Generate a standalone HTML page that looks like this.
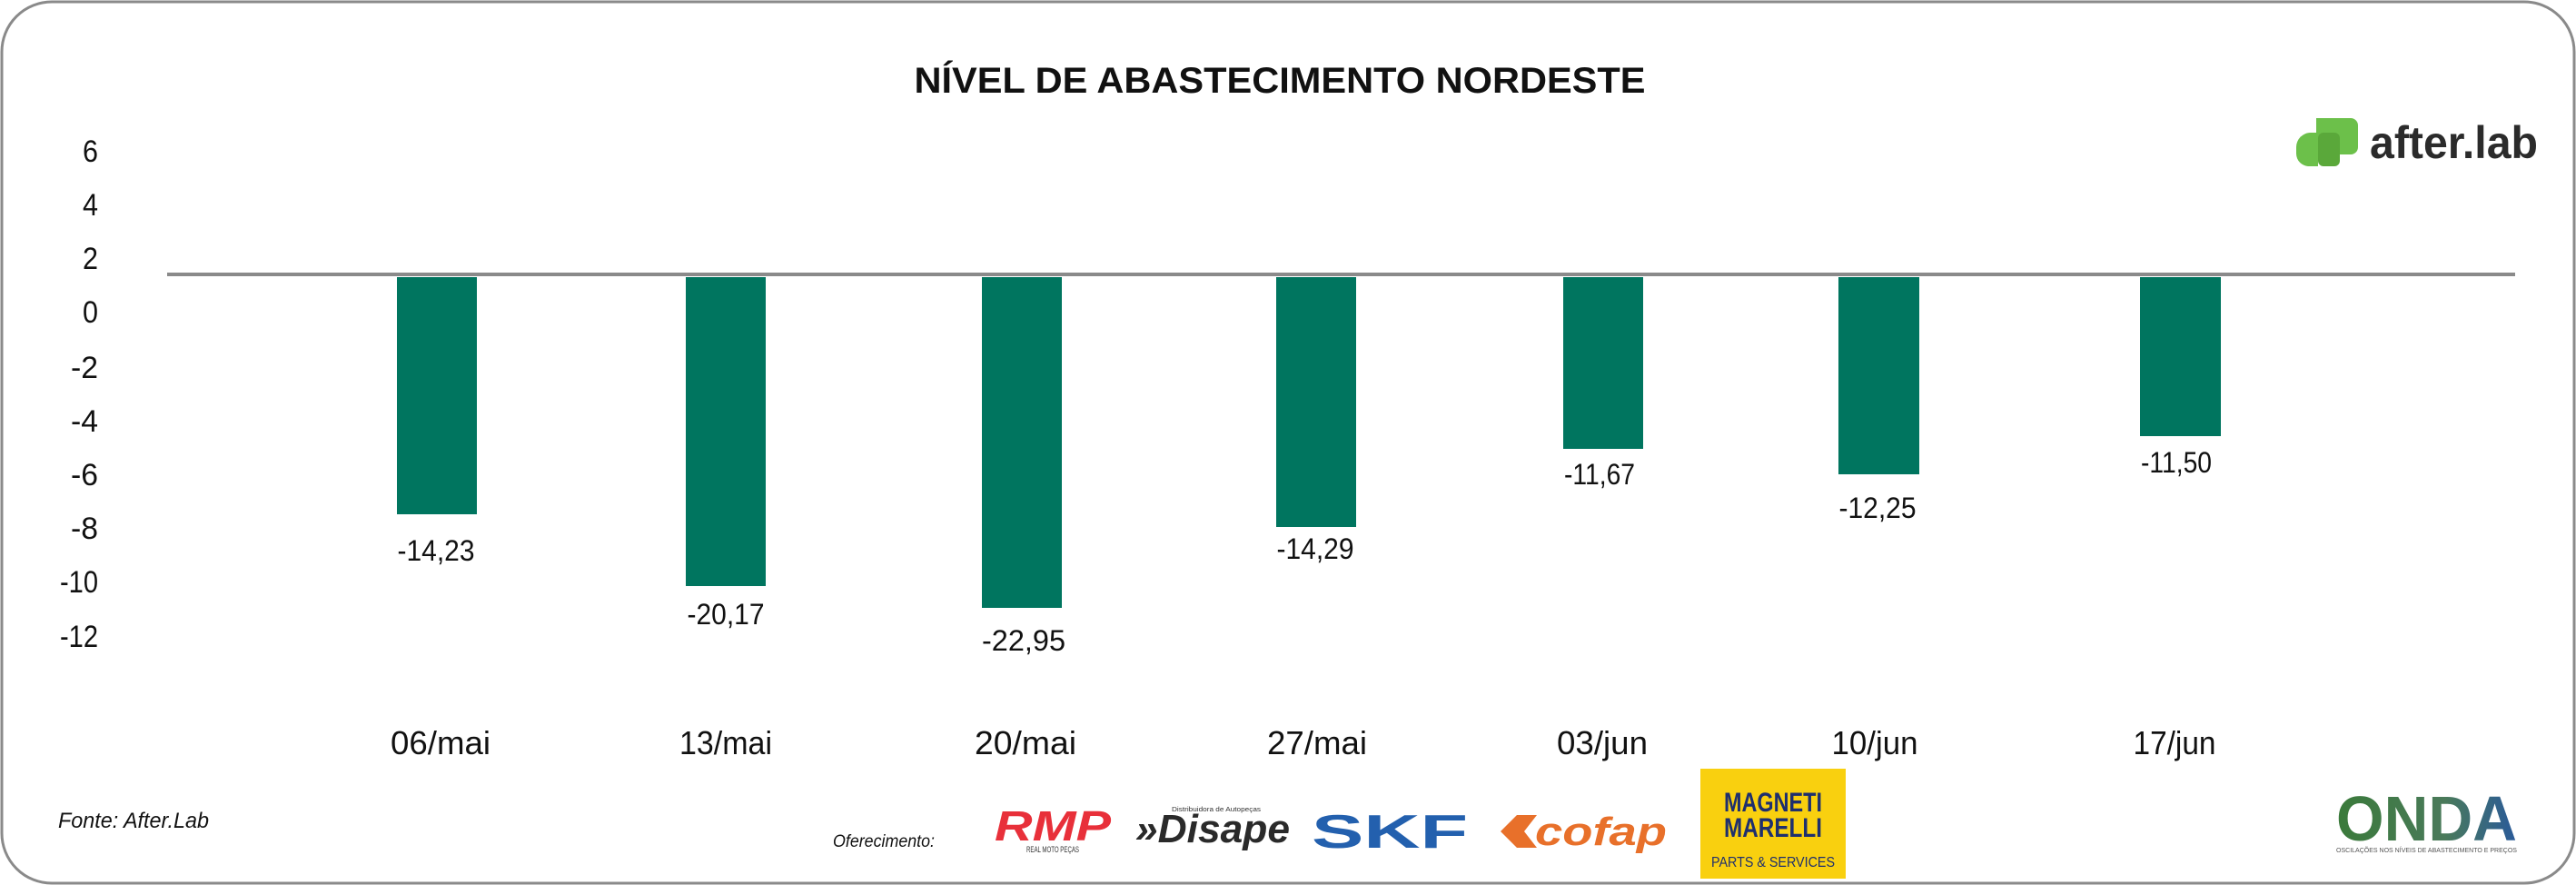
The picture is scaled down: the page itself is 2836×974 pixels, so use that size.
<!DOCTYPE html>
<html><head><meta charset="utf-8"><style>
html,body{margin:0;padding:0;background:#fff;}
svg{display:block;}
text{font-family:"Liberation Sans",sans-serif;}
</style></head><body>
<svg width="2836" height="974" viewBox="0 0 2836 974" xmlns="http://www.w3.org/2000/svg">
<rect x="2" y="2" width="2832" height="970" rx="55" ry="55" fill="#fff" stroke="#8a8a8a" stroke-width="3"/>
<text x="1409" y="102" font-size="40" font-weight="bold" text-anchor="middle" textLength="805" lengthAdjust="spacingAndGlyphs" fill="#111">NÍVEL DE ABASTECIMENTO NORDESTE</text>
<!-- y ticks -->
<g font-size="34" fill="#111" text-anchor="end">
<text x="108" y="178" textLength="17" lengthAdjust="spacingAndGlyphs">6</text>
<text x="108" y="237" textLength="17" lengthAdjust="spacingAndGlyphs">4</text>
<text x="108" y="296" textLength="17" lengthAdjust="spacingAndGlyphs">2</text>
<text x="108" y="355" textLength="17" lengthAdjust="spacingAndGlyphs">0</text>
<text x="108" y="416" textLength="30" lengthAdjust="spacingAndGlyphs">-2</text>
<text x="108" y="475" textLength="30" lengthAdjust="spacingAndGlyphs">-4</text>
<text x="108" y="534" textLength="30" lengthAdjust="spacingAndGlyphs">-6</text>
<text x="108" y="593" textLength="30" lengthAdjust="spacingAndGlyphs">-8</text>
<text x="108" y="652" textLength="42" lengthAdjust="spacingAndGlyphs">-10</text>
<text x="108" y="712" textLength="42" lengthAdjust="spacingAndGlyphs">-12</text>
</g>
<!-- bars -->
<g fill="#00755f">
<rect x="437" y="305" width="88" height="261"/>
<rect x="755" y="305" width="88" height="340"/>
<rect x="1081" y="305" width="88" height="364"/>
<rect x="1405" y="305" width="88" height="275"/>
<rect x="1721" y="305" width="88" height="189"/>
<rect x="2024" y="305" width="89" height="217"/>
<rect x="2356" y="305" width="89" height="175"/>
</g>
<line x1="184" y1="302" x2="2769" y2="302" stroke="#8a8a8a" stroke-width="4"/>
<!-- value labels -->
<g font-size="32" fill="#111" text-anchor="middle">
<text x="480" y="617" textLength="85" lengthAdjust="spacingAndGlyphs">-14,23</text>
<text x="799" y="687" textLength="85" lengthAdjust="spacingAndGlyphs">-20,17</text>
<text x="1127" y="716" textLength="92" lengthAdjust="spacingAndGlyphs">-22,95</text>
<text x="1448" y="615" textLength="85" lengthAdjust="spacingAndGlyphs">-14,29</text>
<text x="1761" y="533" textLength="78" lengthAdjust="spacingAndGlyphs">-11,67</text>
<text x="2067" y="570" textLength="85" lengthAdjust="spacingAndGlyphs">-12,25</text>
<text x="2396" y="520" textLength="78" lengthAdjust="spacingAndGlyphs">-11,50</text>
</g>
<!-- x labels -->
<g font-size="36" fill="#111" text-anchor="middle">
<text x="485" y="830" textLength="110" lengthAdjust="spacingAndGlyphs">06/mai</text>
<text x="799" y="830" textLength="102" lengthAdjust="spacingAndGlyphs">13/mai</text>
<text x="1129" y="830" textLength="112" lengthAdjust="spacingAndGlyphs">20/mai</text>
<text x="1450" y="830" textLength="110" lengthAdjust="spacingAndGlyphs">27/mai</text>
<text x="1764" y="830" textLength="100" lengthAdjust="spacingAndGlyphs">03/jun</text>
<text x="2064" y="830" textLength="95" lengthAdjust="spacingAndGlyphs">10/jun</text>
<text x="2394" y="830" textLength="91" lengthAdjust="spacingAndGlyphs">17/jun</text>
</g>
<text x="64" y="911" font-size="24" font-style="italic" fill="#111" textLength="166" lengthAdjust="spacingAndGlyphs">Fonte: After.Lab</text>
<text x="917" y="932" font-size="19" font-style="italic" fill="#111" textLength="112" lengthAdjust="spacingAndGlyphs">Oferecimento:</text>
<!-- after.lab logo -->
<g>
<path d="M2550 130 h38 a8 8 0 0 1 8 8 v24 a8 8 0 0 1 -8 8 h-12 v-14 h-26 z" fill="#6cc04a"/>
<path d="M2528 162 a16 16 0 0 1 16 -16 h8 v37 h-10 a14 14 0 0 1 -14 -14 z" fill="#6cc04a"/>
<rect x="2552" y="146" width="24" height="37" rx="6" fill="#5aa83a"/>
<text x="2609" y="174" font-size="50" font-weight="bold" fill="#2b2b2b" textLength="185" lengthAdjust="spacingAndGlyphs">after.lab</text>
</g>
<!-- RMP -->
<text x="1095" y="925" font-size="46" font-weight="bold" font-style="italic" fill="#e8303a" textLength="128" lengthAdjust="spacingAndGlyphs">RMP</text>
<text x="1159" y="938" font-size="9" fill="#333" text-anchor="middle" textLength="58" lengthAdjust="spacingAndGlyphs">REAL MOTO PEÇAS</text>
<!-- Disape -->
<text x="1250" y="927" font-size="44" font-weight="bold" font-style="italic" fill="#2a2a2a" textLength="170" lengthAdjust="spacingAndGlyphs">»Disape</text>
<text x="1290" y="893" font-size="7" fill="#333" textLength="98" lengthAdjust="spacingAndGlyphs">Distribuidora de Autopeças</text>
<!-- SKF -->
<text x="1444" y="933" font-size="52" font-weight="bold" fill="#2360ae" textLength="172" lengthAdjust="spacingAndGlyphs">SKF</text>
<!-- cofap -->
<path d="M1652 915 l18 -18 h22 l-14 18 l14 18 h-22 z" fill="#e8702a"/>
<text x="1690" y="930" font-size="44" font-weight="bold" font-style="italic" fill="#e8702a" textLength="145" lengthAdjust="spacingAndGlyphs">cofap</text>
<!-- Magneti Marelli -->
<rect x="1872" y="846" width="160" height="121" fill="#f9d00f"/>
<text x="1952" y="893" font-size="30" font-weight="bold" fill="#1e2f6e" text-anchor="middle" textLength="108" lengthAdjust="spacingAndGlyphs">MAGNETI</text>
<text x="1952" y="921" font-size="30" font-weight="bold" fill="#1e2f6e" text-anchor="middle" textLength="108" lengthAdjust="spacingAndGlyphs">MARELLI</text>
<text x="1952" y="954" font-size="16" fill="#1e2f6e" text-anchor="middle" textLength="136" lengthAdjust="spacingAndGlyphs">PARTS &amp; SERVICES</text>
<!-- ONDA -->
<defs><linearGradient id="og" x1="0" x2="1" y1="0" y2="0"><stop offset="0" stop-color="#3a7a3a"/><stop offset="0.6" stop-color="#4a7a5a"/><stop offset="1" stop-color="#2a5a9a"/></linearGradient></defs>
<text x="2572" y="925" font-size="70" font-weight="bold" fill="url(#og)" textLength="199" lengthAdjust="spacingAndGlyphs">ONDA</text>
<text x="2572" y="938" font-size="7" fill="#555" textLength="199" lengthAdjust="spacingAndGlyphs">OSCILAÇÕES NOS NÍVEIS DE ABASTECIMENTO E PREÇOS</text>
</svg>
</body></html>
